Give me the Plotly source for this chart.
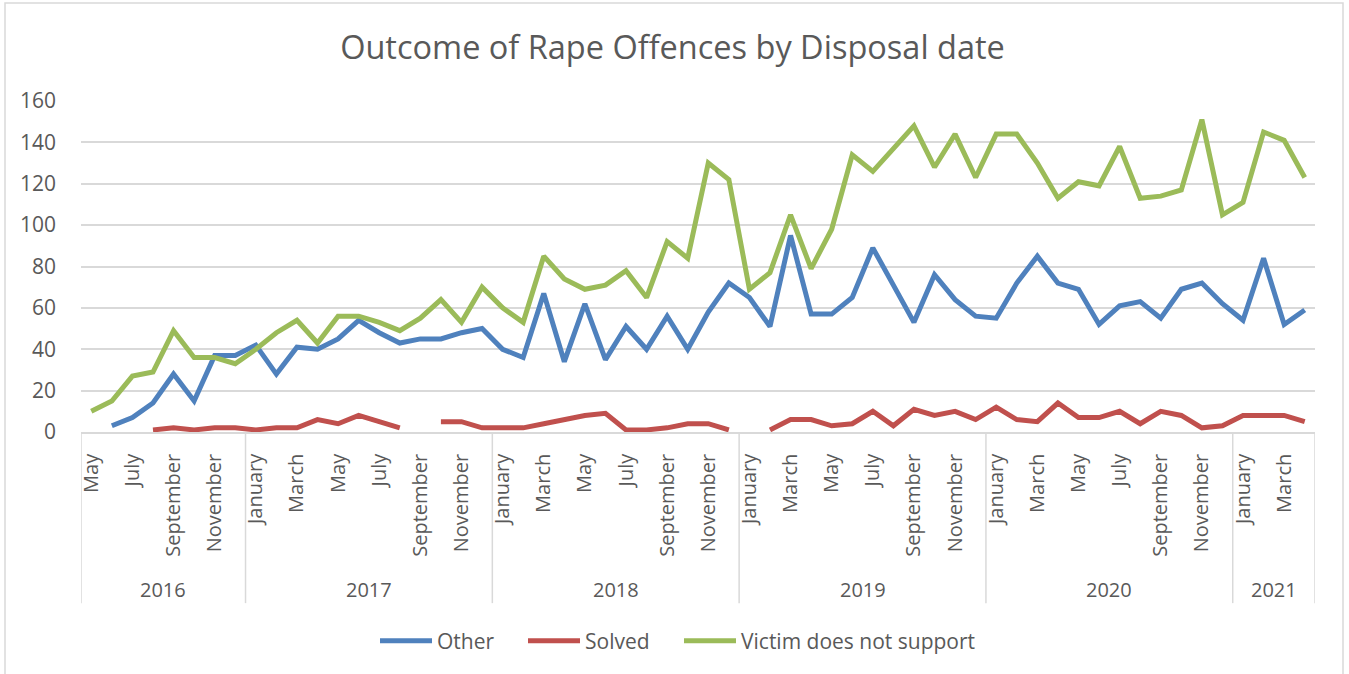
import plotly.graph_objects as go

# ---- data ----
years = ["2016"] * 8 + ["2017"] * 12 + ["2018"] * 12 + ["2019"] * 12 + ["2020"] * 12 + ["2021"] * 4
month_names = ["January", "February", "March", "April", "May", "June", "July",
               "August", "September", "October", "November", "December"]
months = month_names[4:] + month_names * 4 + month_names[:4]

other = [None, 3, 7, 14, 28, 15, 37, 37, 42, 28, 41, 40, 45, 54, 48, 43, 45, 45, 48, 50,
         40, 36, 67, 34, 62, 35, 51, 40, 56, 40, 58, 72, 65, 51, 95, 57, 57, 65, 89, 71,
         53, 76, 64, 56, 55, 72, 85, 72, 69, 52, 61, 63, 55, 69, 72, 62, 54, 84, 52, 59]
solved = [None, None, None, 1, 2, 1, 2, 2, 1, 2, 2, 6, 4, 8, 5, 2, None, 5, 5, 2,
          2, 2, 4, 6, 8, 9, 1, 1, 2, 4, 4, 1, None, 1, 6, 6, 3, 4, 10, 3,
          11, 8, 10, 6, 12, 6, 5, 14, 7, 7, 10, 4, 10, 8, 2, 3, 8, 8, 8, 5]
victim = [10, 15, 27, 29, 49, 36, 36, 33, 40, 48, 54, 43, 56, 56, 53, 49, 55, 64, 53, 70,
          60, 53, 85, 74, 69, 71, 78, 65, 92, 84, 130, 122, 69, 77, 105, 79, 98, 134, 126, 137,
          148, 128, 144, 123, 144, 144, 130, 113, 121, 119, 138, 113, 114, 117, 151, 105, 111, 145, 141, 123]

series_names = ["Other", "Solved", "Victim does not support"]
colors = ["#4F81BD", "#C0504D", "#9BBB59"]

x = [f"{m} {y}" for m, y in zip(months, years)]
year_order = ["2016", "2017", "2018", "2019", "2020", "2021"]

TXT = "#595959"
GRID = "#D9D9D9"
FONT = "Open Sans"

legend_ids = ["legend", "legend2", "legend3"]
legend_px = [375, 523, 679]  # left pixel of each legend entry

fig = go.Figure()
for name, vals, c, lid in zip(series_names, [other, solved, victim], colors, legend_ids):
    fig.add_trace(go.Scatter(x=x, y=vals, mode="lines", name=name, legend=lid,
                             line=dict(color=c, width=5), connectgaps=False))

# year group boundaries (category index positions)
bounds = [-0.5]
for yname in year_order:
    bounds.append(bounds[-1] + years.count(yname))

shapes = []
for b in bounds:
    shapes.append(dict(type="line", xref="x", yref="paper", x0=b, x1=b,
                       y0=0, y1=-0.517, line=dict(color=GRID, width=1.5), layer="below"))
# chart border
shapes.append(dict(type="rect", xref="paper", yref="paper",
                   x0=(5 - 81) / 1234, x1=(1343 - 81) / 1234,
                   y0=(432 - 700) / 331, y1=(432 - 3) / 331,
                   line=dict(color=GRID, width=1.5), layer="below"))

annotations = []
for i, yname in enumerate(year_order):
    annotations.append(dict(x=(bounds[i] + bounds[i + 1]) / 2, y=(432 - 589) / 331,
                            xref="x", yref="paper", text=yname, showarrow=False,
                            font=dict(family=FONT, size=20, color=TXT),
                            xanchor="center", yanchor="middle"))

legend_common = dict(orientation="h", xanchor="left", y=(432 - 641) / 331,
                     yanchor="middle", font=dict(family=FONT, size=21, color=TXT),
                     itemwidth=52, bgcolor="rgba(0,0,0,0)")

fig.update_layout(
    width=1349, height=674,
    margin=dict(l=81, r=34, t=101, b=242),
    paper_bgcolor="white", plot_bgcolor="white",
    title=dict(text="Outcome of Rape Offences by Disposal date",
               x=0.4985, xanchor="center", y=1 - 48 / 674, yanchor="middle",
               yref="container", font=dict(family=FONT, size=32.5, color=TXT)),
    font=dict(family=FONT, color=TXT),
    showlegend=True,
    legend=dict(x=(legend_px[0] - 81) / 1234, **legend_common),
    legend2=dict(x=(legend_px[1] - 81) / 1234, **legend_common),
    legend3=dict(x=(legend_px[2] - 81) / 1234, **legend_common),
    shapes=shapes,
    annotations=annotations,
    xaxis=dict(type="category", categoryorder="array", categoryarray=x,
               range=[-0.5, len(x) - 0.5],
               tickvals=x[::2], ticktext=months[::2], tickangle=-90,
               tickfont=dict(family=FONT, size=20, color=TXT),
               showgrid=False, showline=True, linecolor=GRID, linewidth=1.5,
               ticks="", ticklabelstandoff=12, zeroline=False, fixedrange=True),
    yaxis=dict(range=[0, 160], dtick=20, tick0=0, showgrid=True, gridcolor=GRID,
               gridwidth=1.5, zeroline=False, showline=False, ticks="",
               tickfont=dict(family=FONT, size=21, color=TXT),
               ticklabelstandoff=24, fixedrange=True),
)

fig.write_html("out.html")
